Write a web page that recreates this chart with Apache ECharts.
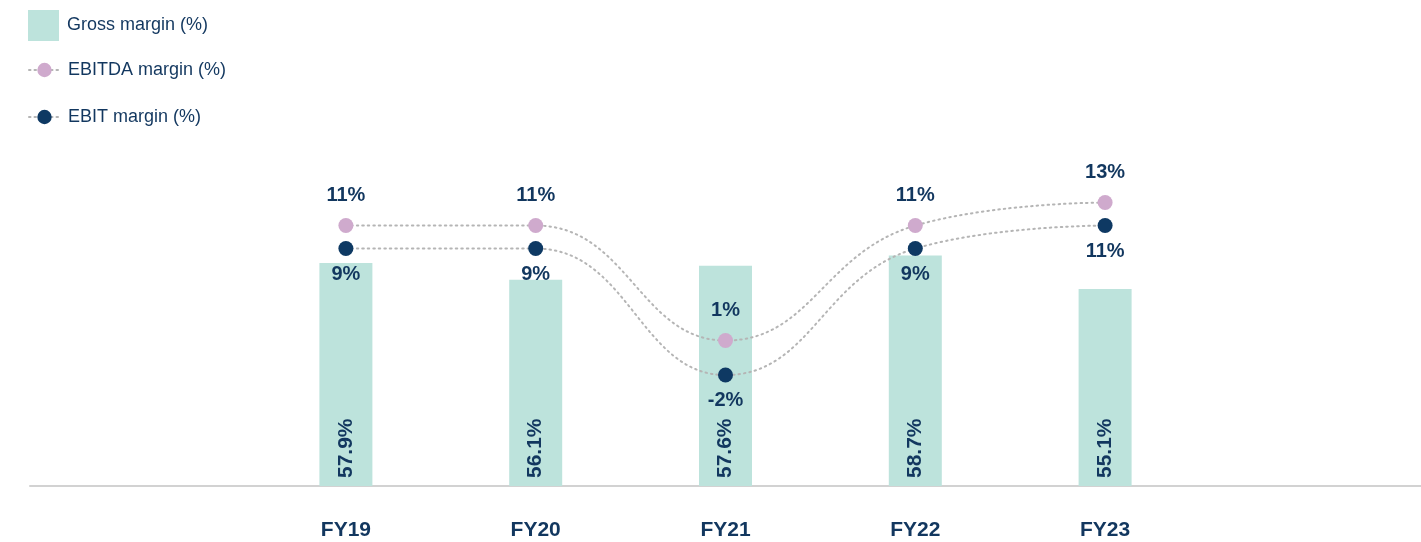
<!DOCTYPE html>
<html>
<head>
<meta charset="utf-8">
<script src="https://cdn.jsdelivr.net/npm/echarts@6/dist/echarts.min.js"></script>
<style>
  html, body { margin: 0; padding: 0; background: #fff; }
  #chart { width: 1421px; height: 542px; }
</style>
</head>
<body>
<div id="chart"></div>
<script>
// data
const years = ["FY19", "FY20", "FY21", "FY22", "FY23"];
const grossMargin = [57.9, 56.1, 57.6, 58.7, 55.1];
const ebitdaMargin = [11, 11, 1, 11, 13];
const ebitMargin = [9, 9, -2, 9, 11];

const navy = "#12375f";
const font = "Liberation Sans";

const myChart = echarts.init(document.getElementById("chart"));

const legendText = { color: navy, fontSize: 18, fontFamily: font, padding: [0, 0, 0, 3] };

const option = {
  animation: false,
  backgroundColor: "#fff",
  textStyle: { fontFamily: font },
  legend: [
    {
      orient: "vertical",
      left: 28,
      top: 10,
      padding: 0,
      itemWidth: 31,
      itemHeight: 31,
      icon: "rect",
      textStyle: legendText,
      data: ["Gross margin (%)"],
    },
    {
      orient: "vertical",
      left: 28,
      top: 61,
      padding: 0,
      itemWidth: 31,
      itemHeight: 18,
      itemGap: 29,
      textStyle: legendText,
      data: ["EBITDA margin (%)", "EBIT margin (%)"],
    },
  ],
  grid: [
    { left: 251, right: 221, top: 150, bottom: 56 },
    // full-width baseline under the chart
    { left: 30, right: 0, top: 150, bottom: 56 },
  ],
  xAxis: [
    {
      type: "category",
      gridIndex: 0,
      data: years,
      axisLine: { show: false },
      axisTick: { show: false },
      axisLabel: {
        color: navy,
        fontSize: 21,
        fontWeight: "bold",
        margin: 34,
      },
    },
    {
      type: "value",
      gridIndex: 1,
      min: 0,
      max: 1,
      axisLine: { show: true, onZero: false, lineStyle: { color: "#d2d2d2", width: 2 } },
      axisTick: { show: false },
      axisLabel: { show: false },
      splitLine: { show: false },
    },
  ],
  yAxis: [
    { type: "value", gridIndex: 0, min: 34, max: 70, show: false },
    { type: "value", gridIndex: 0, min: -11.65, max: 17.57, show: false },
    { type: "value", gridIndex: 1, min: 0, max: 1, show: false },
  ],
  series: [
    {
      name: "Gross margin (%)",
      type: "bar",
      xAxisIndex: 0,
      yAxisIndex: 0,
      barWidth: 53,
      itemStyle: { color: "#bde3dc" },
      label: {
        show: true,
        position: "insideBottom",
        rotate: 90,
        align: "left",
        verticalAlign: "middle",
        distance: 8,
        formatter: "{c}%",
        color: navy,
        fontSize: 21,
        fontWeight: "bold",
      },
      data: grossMargin,
    },
    {
      name: "EBITDA margin (%)",
      type: "line",
      xAxisIndex: 0,
      yAxisIndex: 1,
      smooth: 0.45,
      symbol: "circle",
      symbolSize: 15,
      itemStyle: { color: "#cfaacd" },
      lineStyle: { color: "#b5b5b5", width: 2, type: [1.5, 4], cap: "round" },
      label: {
        show: true,
        position: "top",
        distance: 13,
        formatter: "{c}%",
        color: navy,
        fontSize: 20,
        fontWeight: "bold",
      },
      data: ebitdaMargin,
    },
    {
      name: "EBIT margin (%)",
      type: "line",
      xAxisIndex: 0,
      yAxisIndex: 1,
      smooth: 0.45,
      symbol: "circle",
      symbolSize: 15,
      itemStyle: { color: "#0e3963" },
      lineStyle: { color: "#b5b5b5", width: 2, type: [1.5, 4], cap: "round" },
      label: {
        show: true,
        position: "bottom",
        distance: 8,
        formatter: "{c}%",
        color: navy,
        fontSize: 20,
        fontWeight: "bold",
      },
      data: ebitMargin,
    },
  ],
};

myChart.setOption(option);
</script>
</body>
</html>
